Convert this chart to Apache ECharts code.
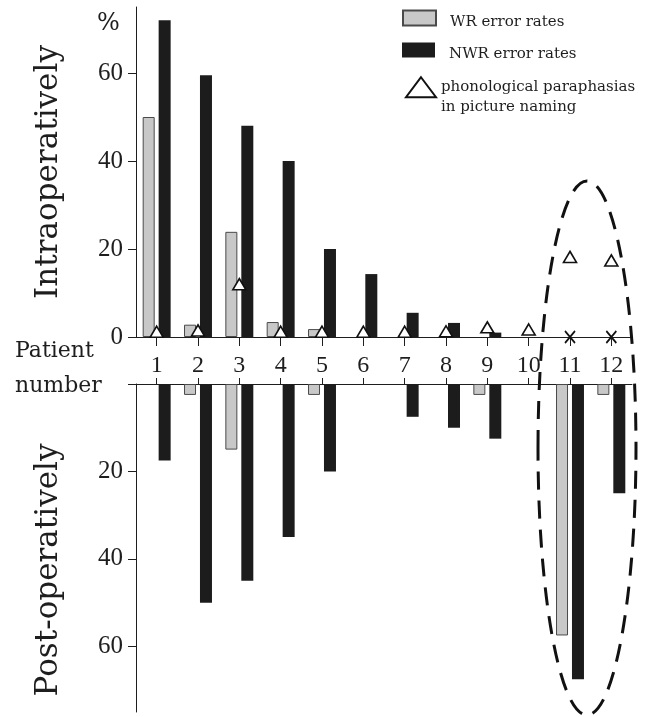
<!DOCTYPE html>
<html>
<head>
<meta charset="utf-8">
<script src="https://cdn.jsdelivr.net/npm/echarts@6/dist/echarts.min.js"></script>
<style>
html,body{margin:0;padding:0;background:#fff;}
#chart{width:655px;height:717px;}
</style>
</head>
<body>
<div id="chart"></div>
<script>
// ---- data ----
const patients = ['1','2','3','4','5','6','7','8','9','10','11','12'];
// null = no bar drawn for that patient
const wrIntra = [50, 2.8, 23.9, 3.4, 1.8, null, null, null, null, null, null, null];
const nwrIntra = [72, 59.5, 48, 40, 20, 14.3, 5.5, 3.2, 1, null, null, null];
const paraphasiaIntra = [1.2, 1.5, 12, 1.2, 1.2, 1.2, 1.2, 1.3, 2.2, 1.7, 18.2, 17.4];
const notTestedIntra = [null, null, null, null, null, null, null, null, null, null, 0, 0];
const wrPost = [null, 2.5, 15, null, 2.5, null, null, null, 2.5, null, 57.5, 2.5];
const nwrPost = [17.5, 50, 45, 35, 20, null, 7.5, 10, 12.5, null, 67.5, 25];
const intraTicks = [0, 20, 40, 60];
const postLabels = [20, 40, 60];
const postTicks = [0, 20, 40, 60];

const INK = '#1e1e1e';
const SERIF = 'DejaVu Serif';
const NUMF = 'Liberation Serif';

const chart = echarts.init(document.getElementById('chart'), null, {renderer: 'canvas'});

const axisLineStyle = {color: INK, width: 1};

function legendRich(spacer) {
  return {
    s: {fontSize: 1, lineHeight: spacer},
    t: {fontFamily: SERIF, fontSize: 15, color: INK, lineHeight: 19, padding: [0, 0, 0, 9]}
  };
}

const option = {
  animation: false,
  backgroundColor: '#fff',
  title: [
    {text: '%', left: 97, top: 10, padding: 0,
     textStyle: {fontFamily: SERIF, fontSize: 24, fontWeight: 'normal', color: INK, lineHeight: 28}},
    {text: 'Patient\nnumber', left: 15, top: 334, padding: 0,
     textStyle: {fontFamily: SERIF, fontSize: 22, fontWeight: 'normal', color: INK, lineHeight: 35}}
  ],
  legend: [
    {data: [{name: 'WR error rates', icon: 'rect'}], left: 402, top: 8, padding: 0, itemWidth: 33, itemHeight: 15,
     formatter: function (n) { return '{s| }\n{t|' + n + '}'; },
     textStyle: {fontFamily: SERIF, fontSize: 15, color: INK, rich: legendRich(8)}},
    {data: [{name: 'NWR error rates', icon: 'rect'}], left: 402, top: 40, padding: 0, itemWidth: 33, itemHeight: 15,
     formatter: function (n) { return '{s| }\n{t|' + n + '}'; },
     textStyle: {fontFamily: SERIF, fontSize: 15, color: INK, rich: legendRich(8)}},
    {data: ['phonological paraphasias in picture naming'], left: 405, top: 58, padding: 0,
     itemWidth: 30, itemHeight: 20,
     formatter: function () { return ' \nphonological paraphasias\nin picture naming'; },
     textStyle: {fontFamily: SERIF, fontSize: 15, color: INK, lineHeight: 19.5}}
  ],
  grid: [
    {left: 136, right: 23, top: 7, height: 330},
    {left: 136, right: 23, top: 384, height: 328}
  ],
  xAxis: [
    {gridIndex: 0, type: 'category', data: patients,
     axisLine: {show: true, lineStyle: axisLineStyle},
     axisTick: {show: true, alignWithLabel: true, length: 9, lineStyle: axisLineStyle},
     axisLabel: {margin: 17, fontFamily: NUMF, fontSize: 24, color: INK}},
    {gridIndex: 1, type: 'category', data: patients, position: 'top',
     axisLine: {show: true, lineStyle: axisLineStyle},
     axisTick: {show: true, alignWithLabel: true, length: 6, lineStyle: axisLineStyle},
     axisLabel: {show: false}}
  ],
  yAxis: [
    {gridIndex: 0, type: 'value', min: 0, max: 75, interval: 20,
     name: 'Intraoperatively', nameLocation: 'middle', nameRotate: 90, nameGap: 72,
     nameTextStyle: {fontFamily: SERIF, fontSize: 31, color: INK},
     axisLine: {show: true, lineStyle: axisLineStyle},
     axisTick: {show: true, length: 8, lineStyle: axisLineStyle, customValues: intraTicks},
     axisLabel: {margin: 13, fontFamily: NUMF, fontSize: 25, color: INK, customValues: intraTicks},
     splitLine: {show: false}},
    {gridIndex: 1, type: 'value', min: 0, max: 75, interval: 20, inverse: true,
     name: 'Post-operatively', nameLocation: 'middle', nameRotate: 90, nameGap: 72,
     nameTextStyle: {fontFamily: SERIF, fontSize: 31, color: INK, padding: [0, 44, 0, 0]},
     axisLine: {show: true, lineStyle: axisLineStyle},
     axisTick: {show: true, length: 8, lineStyle: axisLineStyle, customValues: postTicks},
     axisLabel: {margin: 13, fontFamily: NUMF, fontSize: 25, color: INK, customValues: postLabels},
     splitLine: {show: false}}
  ],
  series: [
    {name: 'WR error rates', type: 'bar', xAxisIndex: 0, yAxisIndex: 0, data: wrIntra,
     barWidth: 12, barGap: '33%',
     itemStyle: {color: '#c8c8c8', borderColor: '#4a4a4a', borderWidth: 1}},
    {name: 'NWR error rates', type: 'bar', xAxisIndex: 0, yAxisIndex: 0, data: nwrIntra,
     barWidth: 12, barGap: '33%',
     itemStyle: {color: '#1c1c1c', borderColor: '#1c1c1c', borderWidth: 0}},
    {name: 'WR error rates', type: 'bar', xAxisIndex: 1, yAxisIndex: 1, data: wrPost,
     barWidth: 12, barGap: '33%',
     itemStyle: {color: '#c8c8c8', borderColor: '#4a4a4a', borderWidth: 1}},
    {name: 'NWR error rates', type: 'bar', xAxisIndex: 1, yAxisIndex: 1, data: nwrPost,
     barWidth: 12, barGap: '33%',
     itemStyle: {color: '#1c1c1c', borderColor: '#1c1c1c', borderWidth: 0}},
    {name: 'phonological paraphasias in picture naming', type: 'scatter', xAxisIndex: 0, yAxisIndex: 0,
     data: paraphasiaIntra, symbol: 'triangle', symbolSize: [13, 11], z: 5,
     itemStyle: {color: '#fff', borderColor: '#111', borderWidth: 1.6, opacity: 1}},
    {name: 'not tested', type: 'scatter', xAxisIndex: 0, yAxisIndex: 0,
     data: notTestedIntra, symbol: 'path://M0,0L10,12M10,0L0,12', symbolSize: [10, 12], z: 5,
     itemStyle: {color: 'rgba(0,0,0,0)', borderColor: '#111', borderWidth: 1.8, opacity: 1}}
  ],
  graphic: [
    {type: 'ellipse', z: 100, silent: true,
     shape: {cx: 587, cy: 448, rx: 49, ry: 267},
     style: {fill: null, stroke: '#111', lineWidth: 3, lineDash: [18, 11]}}
  ]
};

chart.setOption(option);
</script>
</body>
</html>
